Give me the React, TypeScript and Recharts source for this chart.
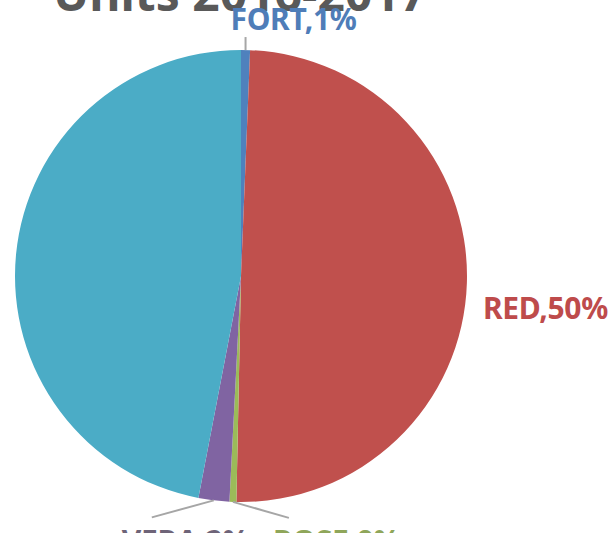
import { PieChart, Pie, Cell } from "recharts";

// slice names and shares, clockwise from 12 o'clock
const names = ["FORT", "RED", "ROSE", "VERA", "AQUA"];
const shares = [0.64, 49.6, 0.49, 2.2, 46.9];
const colors = ["#4F81BD", "#C0504D", "#9BBB59", "#8064A2", "#4BACC6"];
const labelColors = ["#4F7DB8", "#BE4B4B", "#8FA65A", "#6E6478", "#4BACC6"];

const title = "Units 2016-2017";

const data = names.map((name, i) => ({ name, value: shares[i] }));

// label placement relative to the slice's outer edge point
type LabelLayout = {
  line?: [number, number];
  text: [number, number];
  anchor: "start" | "middle" | "end";
};
const LABEL_LAYOUT: Record<string, LabelLayout> = {
  FORT: { line: [0, -13], text: [48, -20], anchor: "middle" },
  RED: { text: [16, 36], anchor: "start" },
  VERA: { line: [-62, 17], text: [-92, 52], anchor: "start" },
  ROSE: { line: [56, 16], text: [40, 50], anchor: "start" },
};

const FONT = "'Noto Sans', 'Open Sans', sans-serif";

function renderLabel(props: any) {
  const { cx, cy, midAngle, outerRadius, name, percent, index } = props;
  const cfg = LABEL_LAYOUT[name];
  if (!cfg) return null;
  const rad = (-midAngle * Math.PI) / 180;
  const ex = cx + outerRadius * Math.cos(rad);
  const ey = cy + outerRadius * Math.sin(rad);
  return (
    <g>
      {cfg.line && (
        <line
          x1={ex}
          y1={ey}
          x2={ex + cfg.line[0]}
          y2={ey + cfg.line[1]}
          stroke="#A6A6A6"
          strokeWidth={2}
        />
      )}
      <text
        x={ex + cfg.text[0]}
        y={ey + cfg.text[1]}
        textAnchor={cfg.anchor}
        fill={labelColors[index]}
        fontFamily={FONT}
        fontWeight={700}
        fontSize={30}
        letterSpacing={-0.3}
      >
        {`${name},${Math.round(percent * 100)}%`}
      </text>
    </g>
  );
}

export default function App() {
  return (
    <div style={{ position: "fixed", left: 0, top: 0, width: 615, height: 533, background: "#fff" }}>
      <PieChart width={615} height={533} margin={{ top: 0, right: 0, bottom: 0, left: 0 }}>
        <text x={53} y={11} fill="#595959" fontFamily={FONT} fontWeight={700} fontSize={48}>
          {title}
        </text>
        <Pie
          data={data}
          dataKey="value"
          nameKey="name"
          cx={241}
          cy={276}
          outerRadius={226}
          startAngle={90}
          endAngle={-270}
          stroke="none"
          label={renderLabel}
          labelLine={false}
          isAnimationActive={false}
        >
          {data.map((d, i) => (
            <Cell key={d.name} fill={colors[i]} />
          ))}
        </Pie>
      </PieChart>
    </div>
  );
}
